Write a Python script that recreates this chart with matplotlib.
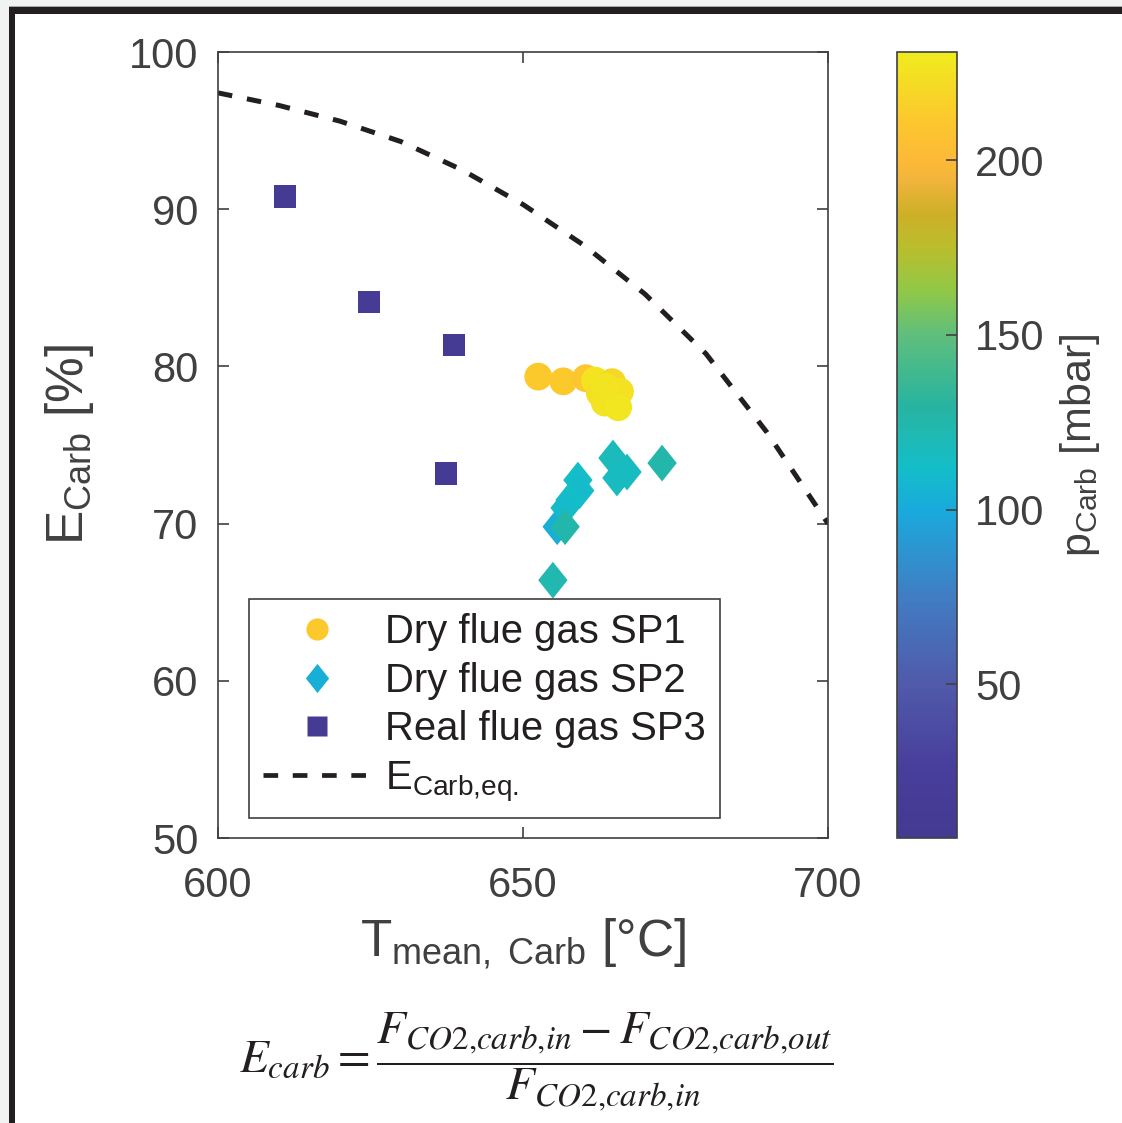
import numpy as np
import matplotlib
matplotlib.use('Agg')
import matplotlib.pyplot as plt
from matplotlib.colors import LinearSegmentedColormap, Normalize
from matplotlib.patches import Rectangle
from matplotlib.lines import Line2D

plt.rcParams['font.family'] = ['Liberation Sans', 'DejaVu Sans']
plt.rcParams['mathtext.fontset'] = 'custom'
plt.rcParams['mathtext.rm'] = 'Liberation Sans'
plt.rcParams['mathtext.it'] = 'Liberation Sans:italic'

## data
# SP1, dry flue gas (circles)
t_sp1 = [652.5, 656.6, 660.3, 661.8, 664.6, 665.9, 662.6, 663.4, 665.6, 663.5]
e_sp1 = [79.35, 79.05, 79.25, 79.1, 79.0, 78.4, 78.3, 77.7, 77.4, 78.7]
p_sp1 = [212, 212, 210, 226, 220, 225, 224, 226, 228, 227]

# SP2, dry flue gas (diamonds)
t_sp2 = [655.6, 664.75, 667.05, 665.4, 672.8, 659.0, 659.3, 657.7, 656.9, 656.9, 654.9]
e_sp2 = [69.8, 74.17, 73.28, 72.9, 73.85, 72.77, 72.1, 71.5, 71.0, 69.8, 66.4]
p_sp2 = [103, 118, 115, 115, 125, 112, 110, 112, 110, 125, 123]

# SP3, real flue gas (squares)
t_sp3 = [611.0, 624.75, 638.7, 637.4]
e_sp3 = [90.8, 84.1, 81.35, 73.2]
p_sp3 = [12, 14, 12, 13]

# equilibrium curve
t_eq = [600, 610, 620, 630, 640, 650, 660, 670, 680, 690, 700]
e_eq = [97.4, 96.6, 95.6, 94.3, 92.5, 90.3, 87.7, 84.6, 80.8, 75.8, 70.0]

p_min, p_max = 6, 231

# parula-like colormap as it looks in the picture
cm_vals = [6, 25, 50, 75, 100, 112, 130, 150, 163, 175, 185, 194, 200, 212, 231]
cm_cols = ['#443A92', '#483E9B', '#505AAA', '#417DC3', '#19AADC', '#14BEC8',
           '#28B4A0', '#5FBE7D', '#91C846', '#B9BE2D', '#CDAF28', '#F0B43C',
           '#FCB937', '#FCC82D', '#F0EB1E']
pos = [(v - p_min) / float(p_max - p_min) for v in cm_vals]
cmap = LinearSegmentedColormap.from_list('parula_ish', list(zip(pos, cm_cols)))
norm = Normalize(vmin=p_min, vmax=p_max)

W, H = 1122., 1123.
fig = plt.figure(figsize=(11.22, 11.23), dpi=100)
fig.patch.set_facecolor('#F1F2F2')

def px_rect(x0, y0, x1, y1, color):
    fig.add_artist(Rectangle((x0 / W, 1 - y1 / H), (x1 - x0) / W, (y1 - y0) / H,
                             transform=fig.transFigure, facecolor=color,
                             edgecolor='none', zorder=-10))

px_rect(15, 14, 1122, 1123, 'white')
px_rect(9, 6, 1122, 7, '#A8A8A8')
px_rect(9, 7, 1122, 14, '#231F20')
px_rect(9, 7, 15, 1123, '#231F20')

gray = '#404040'
ax = fig.add_axes([218 / W, 1 - 838 / H, 610 / W, 786 / H])

diamond = [(0, 1), (0.8, 0), (0, -1), (-0.8, 0), (0, 1)]
sc = ax.scatter(t_sp1, e_sp1, c=p_sp1, cmap=cmap, norm=norm, marker='o',
                s=400, edgecolors='none', zorder=3)
ax.scatter(t_sp2, e_sp2, c=p_sp2, cmap=cmap, norm=norm, marker=diamond,
           s=700, edgecolors='none', zorder=3)
ax.scatter(t_sp3, e_sp3, c=p_sp3, cmap=cmap, norm=norm, marker='s',
           s=265, edgecolors='none', zorder=3)
ax.plot(t_eq, e_eq, color='#231F20', lw=3.6, dashes=(2.9, 3.0), zorder=2)

ax.set_xlim(600, 700)
ax.set_ylim(50, 100)
ax.set_xticks([600, 650, 700])
ax.set_yticks([50, 60, 70, 80, 90, 100])
ax.tick_params(direction='in', length=8, width=1.2, colors=gray,
               labelsize=30, top=True, right=True)
ax.tick_params(axis='y', pad=14)
ax.tick_params(axis='x', pad=20)
for s in ax.spines.values():
    s.set_color(gray)
    s.set_linewidth(1.2)

ax.set_xlabel(r'$\mathrm{T_{mean,\ Carb}}$ [°C]', fontsize=37, color=gray, labelpad=8)
ax.set_ylabel(r'$\mathrm{E_{Carb}}$ [%]', fontsize=37, color=gray, labelpad=24)

handles = [
    Line2D([], [], ls='none', marker='o', markersize=16,
           markerfacecolor=cmap(norm(p_sp1[0])), markeredgecolor='none'),
    Line2D([], [], ls='none', marker=diamond, markersize=21,
           markerfacecolor=cmap(norm(p_sp2[0])), markeredgecolor='none'),
    Line2D([], [], ls='none', marker='s', markersize=14,
           markerfacecolor=cmap(norm(p_sp3[0])), markeredgecolor='none'),
    Line2D([], [], color='#231F20', lw=3.4, dashes=(3.1, 3.1)),
]
labels = ['Dry flue gas SP1', 'Dry flue gas SP2', 'Real flue gas SP3',
          r'$\mathrm{E_{Carb{,}eq.}}$']
leg = ax.legend(handles, labels, loc='lower left', bbox_to_anchor=(0.0508, 0.0254),
                borderaxespad=0, fontsize=28.8, frameon=True, fancybox=False,
                edgecolor=gray, framealpha=1, handlelength=2.68,
                handletextpad=0.35, borderpad=0.36, labelspacing=0.26)
leg.get_frame().set_linewidth(1.2)
for txt in leg.get_texts():
    txt.set_color('#231F20')

cax = fig.add_axes([897 / W, 1 - 838 / H, 60 / W, 786 / H])
cb = fig.colorbar(sc, cax=cax)
cb.set_ticks([50, 100, 150, 200])
cb.ax.tick_params(direction='in', length=8, width=1.2, colors=gray,
                  labelsize=30, pad=13)
cb.outline.set_edgecolor(gray)
cb.outline.set_linewidth(1.2)
cb.set_label(r'$\mathrm{p_{Carb}}$ [mbar]', fontsize=31, color=gray, labelpad=10)

formula = (r'$E_{carb}=\dfrac{F_{\mathit{CO2{,}carb{,}in}}-F_{\mathit{CO2{,}carb{,}out}}}'
           r'{F_{\mathit{CO2{,}carb{,}in}}}$')
fig.text(536 / W, 1 - 1062 / H, formula, ha='center', va='center',
         fontsize=34, color='#231F20', math_fontfamily='stix')

fig.savefig('out.png', dpi=100, facecolor=fig.get_facecolor())
